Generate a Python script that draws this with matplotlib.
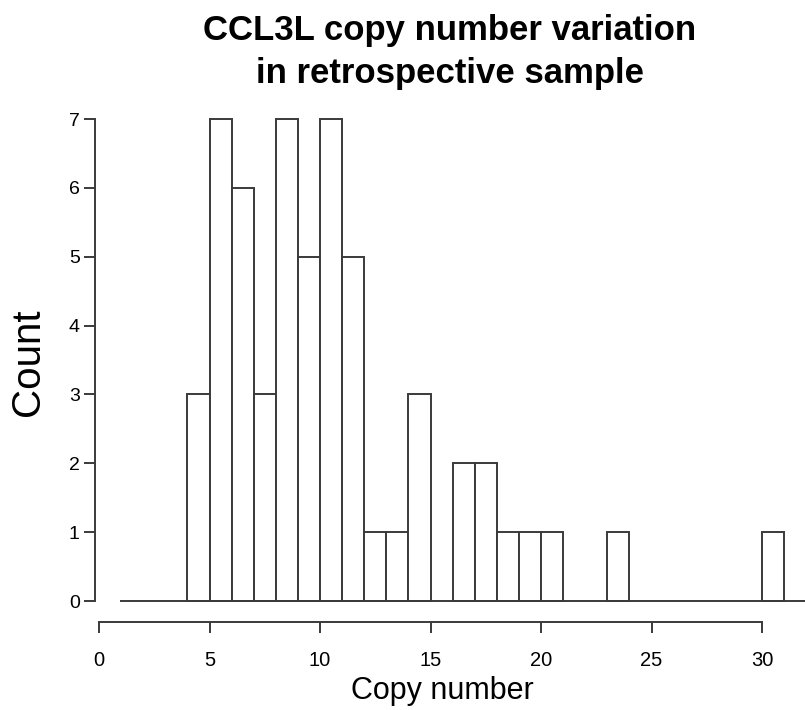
import matplotlib
matplotlib.use("Agg")
import matplotlib.pyplot as plt
from matplotlib import font_manager
import numpy as np

bin_edges = list(range(4, 32))
counts = [3, 7, 6, 3, 7, 5, 7, 5, 1, 1, 3, 0, 2, 2, 1, 1, 1, 0, 0, 1, 0, 0, 0, 0, 0, 0, 1]
x_ticks = [0, 5, 10, 15, 20, 25, 30]
y_ticks = [0, 1, 2, 3, 4, 5, 6, 7]
title = "CCL3L copy number variation\nin retrospective sample"

W, H = 805, 710
fig = plt.figure(figsize=(W / 100, H / 100), dpi=100)
plt.rcParams['font.family'] = ['Liberation Sans', 'DejaVu Sans']
names = {f.name for f in font_manager.fontManager.ttflist}
narrow = 'Liberation Sans Narrow' if 'Liberation Sans Narrow' in names else 'Liberation Sans'

# pixel mapping: x=0 at 99px, x=30 at 762px; y=0 at 601px, y=7 at 119px
px_per_x = (762 - 99) / 30
px_per_y = (601 - 119) / 7
ax_l, ax_r, ax_t, ax_b = 80, 805, 105, 645
ax = fig.add_axes([ax_l / W, 1 - ax_b / H, (ax_r - ax_l) / W, (ax_b - ax_t) / H])
ax.set_xlim((ax_l - 99) / px_per_x, (ax_r - 99) / px_per_x)
ax.set_ylim((601 - ax_b) / px_per_y, (601 - ax_t) / px_per_y)

col = '#3a3a3a'
lefts = bin_edges[:-1]
for l, c in zip(lefts, counts):
    if c > 0:
        ax.bar(l, c, width=1, align='edge', facecolor='white', edgecolor=col, linewidth=1.4)
ax.plot([1, 40], [0, 0], color=col, linewidth=1.4, clip_on=True)

for s in ['top', 'right']:
    ax.spines[s].set_visible(False)
ax.spines['left'].set_position(('data', (95 - 99) / px_per_x))
ax.spines['left'].set_bounds(0, 7)
ax.spines['bottom'].set_position(('data', (601 - 622) / px_per_y))
ax.spines['bottom'].set_bounds(0, 30)
for s in ['left', 'bottom']:
    ax.spines[s].set_color(col)
    ax.spines[s].set_linewidth(1.4)

ax.set_xticks(x_ticks)
ax.set_yticks(y_ticks)
ax.set_xticklabels([str(t) for t in x_ticks], fontsize=14.5, family=[narrow, 'DejaVu Sans'])
ax.set_yticklabels([str(t) for t in y_ticks], fontsize=14)
ax.tick_params(axis='both', length=8, width=1.4, color=col)
ax.tick_params(axis='x', pad=13)
ax.tick_params(axis='y', pad=3)

ax.set_xlabel("Copy number", fontsize=22, labelpad=4)
fig.text(28 / W, 1 - 362 / H, "Count", rotation=90, ha='center', va='center', fontsize=29)

fig.text(450 / W, 1 - 52 / H, title, ha='center', va='center', fontsize=25,
         fontweight='bold', linespacing=1.38)

fig.savefig("out.png", dpi=100)
